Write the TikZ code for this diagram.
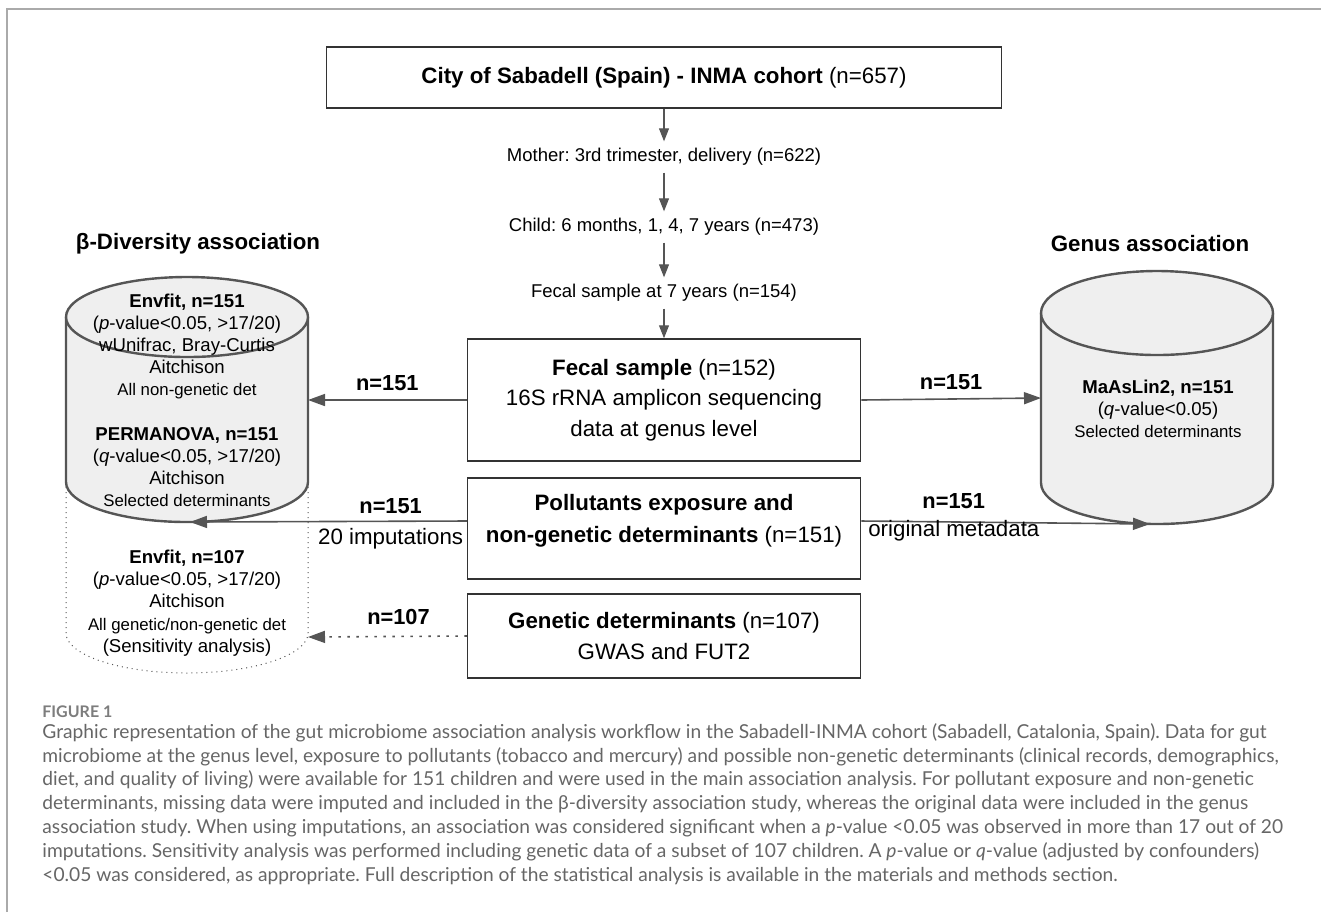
\documentclass[tikz,border=0pt]{standalone}
\usepackage{fontspec}
\setmainfont{Liberation Sans}
\newfontfamily\capfont{Lato}
\usetikzlibrary{arrows.meta,positioning,calc}
\definecolor{linegray}{HTML}{555555}
\definecolor{boxgray}{HTML}{333333}
\definecolor{cylfill}{HTML}{EFEFEF}
\definecolor{capgray}{HTML}{666666}
\definecolor{framegray}{HTML}{AAAAAA}
\newcommand{\detfont}{\fontsize{8.4}{11.1}\selectfont}
\frenchspacing
\begin{document}
\begin{tikzpicture}[x=0.5pt,y=-0.5pt,
    big/.style={font=\fontsize{11.15}{15.25}\selectfont},
    box/.style={draw=boxgray, line width=0.75pt, minimum width=196.5pt, align=center, big},
    chain/.style={font=\fontsize{9.25}{11}\selectfont},
    cyltext/.style={font=\fontsize{9.3}{11.1}\selectfont, align=center},
    cyl/.style={draw=linegray, line width=1.2pt},
    flow/.style={-{Triangle[length=8.5pt,width=6pt]}, draw=linegray, line width=0.8pt},
    down/.style={-{Triangle[length=6.5pt,width=5pt]}, draw=linegray, line width=0.55pt},
    lbl/.style={font=\fontsize{10.9}{12}\selectfont\bfseries}]
  \useasboundingbox (0,0) rectangle (1321,912);
  \draw[framegray, line width=1pt] (7,912) -- (7,9) -- (1321,9);

  \node[box, minimum width=337.5pt, minimum height=30.5pt] (cohort) at (664,77.5) {\textbf{City of Sabadell (Spain) - INMA cohort} (n=657)};
  \node[chain] (mother) at (664,157) {Mother: 3rd trimester, delivery (n=622)};
  \node[chain] (child) at (664,227) {Child: 6 months, 1, 4, 7 years (n=473)};
  \node[chain] (fecal7) at (664,293) {Fecal sample at 7 years (n=154)};
  \node[box, minimum height=61pt] (fecal) at (664,400) {\textbf{Fecal sample} (n=152)\\16S rRNA amplicon sequencing\\data at genus level};
  \node[box, minimum height=50.5pt] (pollut) at (664,528.5) {};
  \node[font=\fontsize{11.15}{16}\selectfont, align=center] (pollutxt) at (664,521) {\textbf{Pollutants exposure and}\\\textbf{non-genetic determinants} (n=151)};
  \node[box, minimum height=42pt] (genetic) at (664,636) {\textbf{Genetic determinants} (n=107)\\GWAS and FUT2};

  \draw[down] (cohort) -- (mother);
  \draw[down] (mother) -- (child);
  \draw[down] (child) -- (fecal7);
  \draw[down] (fecal7) -- (fecal);

  \node[big, font=\fontsize{11.15}{15}\selectfont\bfseries] (betahead) at (198,244) {β-Diversity association};
  \node[big, font=\fontsize{11.15}{15}\selectfont\bfseries] (genushead) at (1150,244) {Genus association};

  \fill[cylfill] (66,317) -- (66,482) arc[start angle=180,end angle=0,x radius=121,y radius=40] -- (308,317) -- cycle;
  \draw[cyl] (66,317) -- (66,482) arc[start angle=180,end angle=0,x radius=121,y radius=40] -- (308,317);
  \draw[cyl, fill=cylfill] (187,317) ellipse[x radius=121,y radius=40];
  \draw[linegray, line width=0.5pt, dotted] (66,482) -- (66,633) arc[start angle=180,end angle=0,x radius=121,y radius=40] -- (308,482);

  \fill[cylfill] (1041,313) -- (1041,483) arc[start angle=180,end angle=0,x radius=116,y radius=41] -- (1273,313) -- cycle;
  \draw[cyl] (1041,313) -- (1041,483) arc[start angle=180,end angle=0,x radius=116,y radius=41] -- (1273,313);
  \draw[cyl, fill=cylfill] (1157,313) ellipse[x radius=116,y radius=42];

  \node[cyltext] (envfit) at (187,346.5) {\textbf{Envfit, n=151}\\(\textit{p}-value<0.05, >17/20)\\wUnifrac, Bray-Curtis\\Aitchison\\{\detfont All non-genetic det}};
  \node[cyltext] (permanova) at (187,467) {\textbf{PERMANOVA, n=151}\\(\textit{q}-value<0.05, >17/20)\\Aitchison\\{\detfont Selected determinants}};
  \node[cyltext] (envfitgen) at (187,603) {\textbf{Envfit, n=107}\\(\textit{p}-value<0.05, >17/20)\\Aitchison\\{\detfont All genetic/non-genetic det}\\(Sensitivity analysis)};
  \node[cyltext] (maaslin) at (1158,409) {\textbf{MaAsLin2, n=151}\\(\textit{q}-value<0.05)\\{\detfont Selected determinants}};

  \coordinate (betaside) at (308,400);
  \coordinate (betabase) at (190,522);
  \coordinate (betadot) at (308,637);
  \coordinate (genside) at (1041,398);
  \coordinate (genbase) at (1150,524);

  \draw[flow] (fecal.west) -- node[lbl, above, yshift=1pt] (nleft) {n=151} (betaside);
  \draw[flow] (pollutxt -| pollut.west) -- node[lbl, above, pos=0.275] (nimp) {n=151} node[big, below, pos=0.275] (imp) {20 imputations} (betabase);
  \draw[flow, dash pattern=on 1.2pt off 3.3pt] (genetic.west) -- node[lbl, above, pos=0.43, yshift=2pt] (ngen) {n=107} (betadot);
  \draw[flow] (fecal.east) -- node[lbl, above, yshift=1pt] (nright) {n=151} (genside);
  \draw[flow] (pollutxt -| pollut.east) -- node[lbl, above, pos=0.32, yshift=3pt] (norig) {n=151} (genbase);
  \node[big, anchor=west, xshift=0pt, yshift=-5pt] (orig) at (pollutxt -| pollut.east) {original metadata};

  \node[anchor=west, inner sep=0pt, text=capgray!85, font=\capfont\fontsize{8}{9}\selectfont\bfseries] (figlabel) at (42,712) {FIGURE 1};
  \node[anchor=north west, inner sep=0pt, align=left, text=capgray, font=\capfont\fontsize{9.6}{11.9}\selectfont] (caption) at (42,723) {Graphic representation of the gut microbiome association analysis workflow in the Sabadell-INMA cohort (Sabadell, Catalonia, Spain). Data for gut\\
microbiome at the genus level, exposure to pollutants (tobacco and mercury) and possible non-genetic determinants (clinical records, demographics,\\
diet, and quality of living) were available for 151 children and were used in the main association analysis. For pollutant exposure and non-genetic\\
determinants, missing data were imputed and included in the β-diversity association study, whereas the original data were included in the genus\\
association study. When using imputations, an association was considered significant when a \textit{p}-value <0.05 was observed in more than 17 out of 20\\
imputations. Sensitivity analysis was performed including genetic data of a subset of 107 children. A \textit{p}-value or \textit{q}-value (adjusted by confounders)\\
<0.05 was considered, as appropriate. Full description of the statistical analysis is available in the materials and methods section.};
\end{tikzpicture}
\end{document}
